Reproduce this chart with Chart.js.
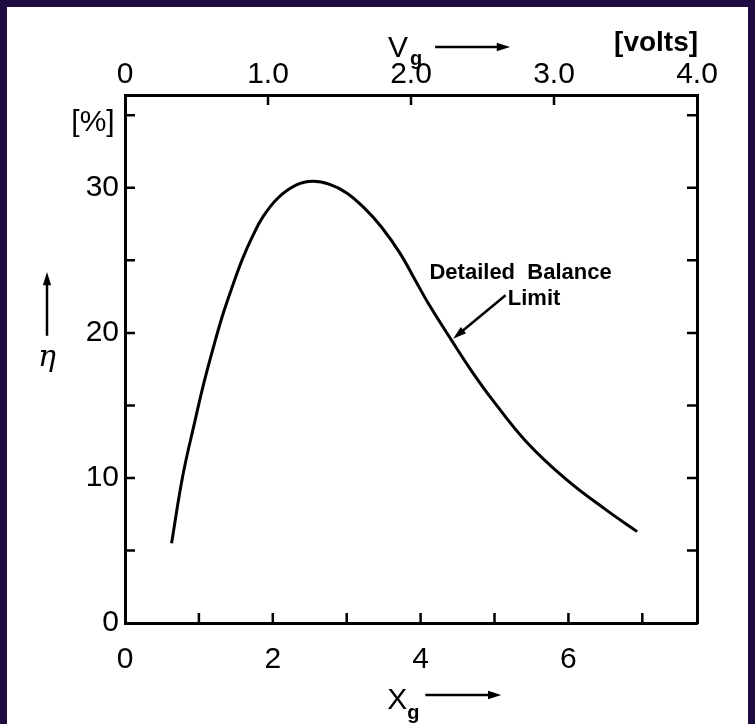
<!DOCTYPE html>
<html>
<head>
<meta charset="utf-8">
<script src="https://cdn.jsdelivr.net/npm/chart.js@4.4.1/dist/chart.umd.min.js"></script>
<style>
  html, body { margin: 0; padding: 0; background: #1e0b3f; }
  #paper { position: absolute; left: 7px; top: 7px; width: 741px; height: 717px; background: #fff; }
  #wrap { position: absolute; left: 0; top: 0; width: 755px; height: 724px; }
</style>
</head>
<body>
<div id="paper"></div>
<div id="wrap"><canvas id="effChart" width="755" height="724"></canvas></div>
<script>
// detailed balance limit
let xg = [0.63, 0.78, 0.95, 1.07, 1.19, 1.32, 1.46, 1.59, 1.73, 1.86, 2.07, 2.32,
  2.54, 2.77, 3.00, 3.24, 3.47, 3.72, 3.92, 4.12, 4.43, 4.70, 4.97, 5.43, 5.97,
  6.51, 6.93];
let eta = [5.5, 10.1, 14.0, 16.6, 18.9, 21.2, 23.3, 25.1, 26.7, 27.95, 29.3, 30.2,
  30.45, 30.24, 29.65, 28.6, 27.3, 25.5, 23.7, 21.9, 19.4, 17.3, 15.4, 12.5, 9.9,
  7.8, 6.3];

// ticks
let xgTicks = [0, 1, 2, 3, 4, 5, 6, 7];
let xgLabels = ["0", "", "2", "", "4", "", "6", ""];
let vgTicks = [0, 1, 2, 3, 4];
let vgLabels = ["0", "1.0", "2.0", "3.0", "4.0"];
let etaTicks = [0, 5, 10, 15, 20, 25, 30, 35];
let etaLabels = ["0", "", "10", "", "20", "", "30", ""];

let xgMax = 7.74;
let etaMax = 36.4;

let tickFont = { family: "Liberation Sans", size: 30 };

function setTicks(values) {
  return function (scale) {
    scale.ticks = values.map((v) => ({ value: v }));
  };
}

function arrow(ctx, x1, y1, x2, y2, head) {
  let ang = Math.atan2(y2 - y1, x2 - x1);
  ctx.beginPath();
  ctx.moveTo(x1, y1);
  ctx.lineTo(x2 - Math.cos(ang) * head * 0.8, y2 - Math.sin(ang) * head * 0.8);
  ctx.stroke();
  ctx.beginPath();
  ctx.moveTo(x2, y2);
  ctx.lineTo(x2 - head * Math.cos(ang - 0.3), y2 - head * Math.sin(ang - 0.3));
  ctx.lineTo(x2 - head * Math.cos(ang + 0.3), y2 - head * Math.sin(ang + 0.3));
  ctx.closePath();
  ctx.fill();
}

// ticks point inward on all four sides
let innerTicks = {
  id: "innerTicks",
  afterDraw(chart) {
    let { ctx, chartArea: a, scales } = chart;
    let len = 10;
    ctx.save();
    ctx.strokeStyle = "#000";
    ctx.lineWidth = 2.5;
    ctx.beginPath();
    xgTicks.forEach((v) => {
      if (v <= 0) return;
      let px = scales.x.getPixelForValue(v);
      ctx.moveTo(px, a.bottom);
      ctx.lineTo(px, a.bottom - len);
    });
    vgTicks.forEach((v) => {
      if (v <= 0 || v >= 4) return;
      let px = scales.x2.getPixelForValue(v);
      ctx.moveTo(px, a.top);
      ctx.lineTo(px, a.top + len);
    });
    etaTicks.forEach((v) => {
      if (v <= 0) return;
      let py = scales.y.getPixelForValue(v);
      ctx.moveTo(a.left, py);
      ctx.lineTo(a.left + len, py);
      ctx.moveTo(a.right, py);
      ctx.lineTo(a.right - len, py);
    });
    ctx.stroke();
    ctx.restore();
  },
};

// axis titles and the curve label
let notes = {
  id: "notes",
  afterDraw(chart) {
    let { ctx, chartArea: a, scales } = chart;
    let sx = scales.x, sy = scales.y, s2 = scales.x2;
    ctx.save();
    ctx.fillStyle = "#000";
    ctx.strokeStyle = "#000";
    ctx.lineWidth = 2.5;
    ctx.textBaseline = "alphabetic";

    // V_g -> [volts]
    let vx = s2.getPixelForValue(1.84);
    ctx.font = "30px 'Liberation Sans'";
    ctx.textAlign = "left";
    ctx.fillText("V", vx, a.top - 38);
    ctx.font = "bold 20px 'Liberation Sans'";
    ctx.fillText("g", vx + 22, a.top - 30);
    arrow(ctx, vx + 47, a.top - 48, vx + 122, a.top - 48, 14);
    ctx.font = "bold 28px 'Liberation Sans'";
    ctx.fillText("[volts]", s2.getPixelForValue(3.42), a.top - 44);

    // [%] and eta
    ctx.font = "30px 'Liberation Sans'";
    ctx.textAlign = "center";
    ctx.fillText("[%]", a.left - 32, a.top + 36);
    arrow(ctx, 47, sy.getPixelForValue(19.8), 47, sy.getPixelForValue(24.2), 14);
    ctx.font = "italic 30px 'DejaVu Serif'";
    ctx.fillText("\u03B7", 47, sy.getPixelForValue(17.7));

    // X_g ->
    let xx = sx.getPixelForValue(3.55);
    ctx.font = "30px 'Liberation Sans'";
    ctx.textAlign = "left";
    ctx.fillText("X", xx, a.bottom + 86);
    ctx.font = "bold 20px 'Liberation Sans'";
    ctx.fillText("g", xx + 20, a.bottom + 96);
    arrow(ctx, xx + 38, a.bottom + 72, xx + 114, a.bottom + 72, 14);

    // Detailed Balance Limit
    ctx.font = "bold 22px 'Liberation Sans'";
    ctx.fillText("Detailed  Balance", sx.getPixelForValue(4.12), sy.getPixelForValue(23.7));
    ctx.fillText("Limit", sx.getPixelForValue(5.18), sy.getPixelForValue(21.9));
    arrow(ctx, sx.getPixelForValue(5.15), sy.getPixelForValue(22.6),
      sx.getPixelForValue(4.44), sy.getPixelForValue(19.6), 14);
    ctx.restore();
  },
};

let effChart = new Chart(document.getElementById("effChart"), {
  type: "line",
  data: {
    datasets: [
      {
        data: xg.map((v, i) => ({ x: v, y: eta[i] })),
        borderColor: "#000",
        borderWidth: 3,
        pointRadius: 0,
        tension: 0.4,
        xAxisID: "x",
        yAxisID: "y",
      },
    ],
  },
  options: {
    responsive: false,
    animation: false,
    layout: { padding: 0 },
    plugins: {
      legend: { display: false },
      tooltip: { enabled: false },
    },
    scales: {
      x: {
        type: "linear",
        position: "bottom",
        min: 0,
        max: xgMax,
        afterBuildTicks: setTicks(xgTicks),
        afterFit: (s) => { s.height = 101; },
        grid: { display: false, drawTicks: false },
        border: { display: true, color: "#000", width: 3 },
        ticks: {
          color: "#000",
          font: tickFont,
          padding: 19,
          maxRotation: 0,
          autoSkip: false,
          callback: (v, i) => xgLabels[i],
        },
      },
      x2: {
        type: "linear",
        position: "top",
        min: 0,
        max: 4,
        afterBuildTicks: setTicks(vgTicks),
        afterFit: (s) => { s.height = 95; },
        grid: { display: false, drawTicks: false },
        border: { display: true, color: "#000", width: 3 },
        ticks: {
          color: "#000",
          font: tickFont,
          padding: 2,
          maxRotation: 0,
          autoSkip: false,
          callback: (v, i) => vgLabels[i],
        },
      },
      y: {
        type: "linear",
        position: "left",
        min: 0,
        max: etaMax,
        afterBuildTicks: setTicks(etaTicks),
        afterFit: (s) => { s.width = 125; },
        grid: { display: false, drawTicks: false },
        border: { display: true, color: "#000", width: 3 },
        ticks: {
          color: "#000",
          font: tickFont,
          padding: 6,
          autoSkip: false,
          callback: (v, i) => etaLabels[i],
        },
      },
      y2: {
        type: "linear",
        position: "right",
        display: true,
        min: 0,
        max: etaMax,
        afterFit: (s) => { s.width = 58; },
        grid: { display: false, drawTicks: false },
        border: { display: true, color: "#000", width: 3 },
        ticks: { display: false },
      },
    },
  },
  plugins: [innerTicks, notes],
});
</script>
</body>
</html>
